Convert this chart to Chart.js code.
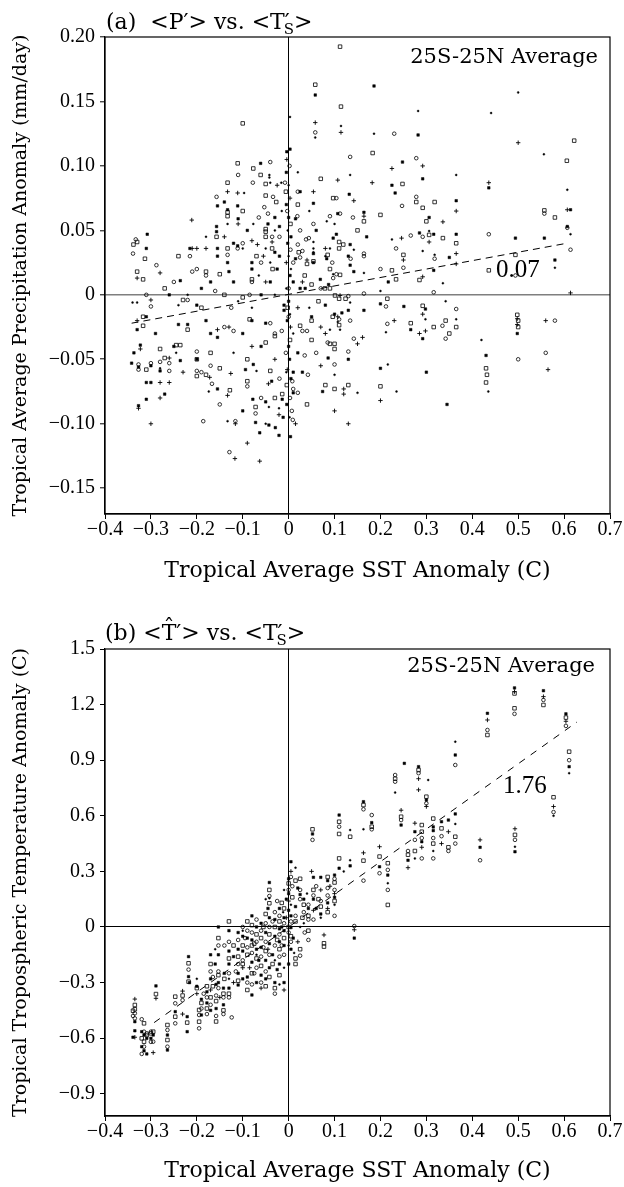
<!DOCTYPE html>
<html><head><meta charset="utf-8">
<script src="https://cdn.jsdelivr.net/npm/chart.js"></script>
<style>
html,body{margin:0;padding:0;background:#fff;width:624px;height:1187px;overflow:hidden}
canvas{position:absolute;left:0}
#ca{top:0}
#cb{top:600px}
</style></head><body>
<canvas id="ca" width="624" height="600"></canvas>
<canvas id="cb" width="624" height="587"></canvas>
<script>
// ---------- tick labels ----------
const xTicks = [-0.4,-0.3,-0.2,-0.1,0,0.1,0.2,0.3,0.4,0.5,0.6,0.7];
const yTicksA = [-0.15,-0.10,-0.05,0,0.05,0.10,0.15,0.20];
const yTicksB = [-0.9,-0.6,-0.3,0,0.3,0.6,0.9,1.2,1.5];

// ---------- panel (a): <P'> vs <Ts'> ----------
const aFill = [[-0.004,0.111],[-0.061,0.102],[-0.140,0.072],[-0.155,0.069],[-0.111,0.069],[-0.133,0.066],[0.015,0.059],[-0.020,0.053],[-0.110,0.059],[-0.157,0.053],[-0.157,0.049],[-0.308,0.047],[-0.310,0.036],[-0.215,0.036],[-0.155,0.036],[-0.155,0.030],[-0.133,0.025],[-0.111,0.038],[-0.030,0.033],[0.015,0.028],[0.054,0.025],[0.054,0.032],[0.130,0.030],[-0.080,0.025],[-0.080,0.020],[-0.130,0.018],[-0.236,0.011],[-0.310,-0.017],[-0.330,-0.027],[-0.240,-0.023],[-0.220,-0.023],[-0.200,-0.008],[-0.180,-0.020],[-0.155,-0.033],[-0.080,-0.020],[-0.050,-0.022],[-0.010,-0.008],[-0.010,-0.012],[0.000,-0.005],[0.050,-0.017],[0.080,-0.008],[0.100,-0.015],[0.130,-0.012],[0.248,0.103],[0.225,0.085],[0.292,0.090],[0.025,0.080],[0.054,0.071],[0.132,0.078],[0.232,0.079],[0.365,0.073],[0.436,0.083],[0.614,0.066],[0.607,0.053],[0.107,0.063],[0.164,0.064],[0.285,0.048],[0.306,0.060],[0.316,0.047],[0.365,0.047],[0.494,0.044],[0.557,0.044],[0.097,0.044],[0.104,0.047],[0.134,0.039],[0.083,0.028],[0.134,0.023],[0.350,0.029],[0.580,0.027],[0.316,0.019],[0.217,0.010],[0.142,0.018],[0.069,0.012],[0.087,0.008],[0.025,0.005],[0.036,0.005],[0.164,-0.012],[0.200,-0.007],[0.251,-0.009],[0.298,-0.011],[0.266,-0.027],[0.292,-0.034],[0.116,-0.014],[0.498,-0.030],[-0.342,-0.053],[-0.337,-0.045],[-0.327,-0.056],[-0.323,-0.039],[-0.300,-0.055],[-0.310,-0.068],[-0.300,-0.068],[-0.310,-0.081],[-0.327,-0.086],[-0.280,-0.059],[-0.270,-0.077],[-0.236,-0.051],[-0.155,-0.073],[-0.094,-0.058],[-0.078,-0.081],[-0.072,-0.099],[-0.063,-0.107],[-0.050,-0.083],[-0.043,-0.101],[-0.029,-0.103],[-0.021,-0.109],[-0.014,-0.081],[-0.012,-0.095],[-0.037,-0.067],[-0.077,-0.054],[0.010,-0.076],[0.010,-0.060],[0.074,-0.075],[0.086,-0.049],[0.130,-0.050],[0.200,-0.057],[0.430,-0.047],[0.300,-0.060],[0.345,-0.085],[0.058,0.155],[0.186,0.162],[0.282,0.124],[0.003,0.113],[-0.030,0.060],[-0.020,0.030],[0.005,0.045],[-0.060,-0.040],[-0.100,-0.030],[0.000,-0.040],[-0.040,0.010],[0.010,0.010],[-0.120,0.010],[-0.190,0.005],[-0.250,-0.040],[-0.200,-0.050],[-0.170,-0.030],[0.000,0.060],[0.005,-0.065],[0.020,-0.045],[-0.005,0.095],[-0.005,0.070],[-0.002,0.040],[0.003,0.015],[-0.003,-0.020],[0.002,-0.050],[-0.004,-0.085],[0.004,-0.110],[-0.045,0.055],[-0.025,0.020],[-0.060,0.000],[-0.090,0.050],[-0.120,0.040],[-0.170,0.010],[-0.260,0.000],[-0.290,-0.030],[0.030,-0.060],[0.060,0.050],[0.170,0.045],[-0.100,-0.090]];
const aOpen = [[-0.111,0.102],[-0.077,0.098],[-0.061,0.093],[-0.050,0.086],[-0.050,0.077],[-0.133,0.087],[-0.133,0.064],[-0.133,0.061],[-0.027,0.072],[-0.050,0.051],[-0.050,0.049],[-0.050,0.045],[-0.157,0.045],[-0.338,0.039],[-0.330,0.041],[-0.313,0.028],[-0.133,0.036],[-0.036,0.036],[0.022,0.033],[0.040,0.024],[0.085,0.031],[0.110,0.041],[0.110,0.036],[-0.080,0.012],[-0.150,0.016],[-0.180,0.018],[-0.317,0.012],[-0.330,0.018],[-0.317,-0.017],[-0.317,-0.024],[-0.220,-0.027],[-0.230,-0.004],[-0.100,-0.002],[-0.085,-0.019],[-0.050,-0.037],[-0.030,-0.032],[0.025,-0.024],[0.050,-0.020],[0.050,-0.035],[0.090,-0.038],[0.100,-0.038],[0.110,-0.003],[0.090,0.005],[0.065,-0.005],[0.183,0.110],[0.248,0.086],[0.097,0.075],[0.164,0.057],[0.200,0.062],[0.278,0.072],[0.318,0.072],[0.292,0.0675],[0.300,0.057],[0.306,0.0465],[0.336,0.044],[0.365,0.040],[0.606,0.104],[0.557,0.0655],[0.580,0.060],[0.119,0.039],[0.054,0.026],[0.090,0.020],[0.250,0.031],[0.494,0.031],[0.436,0.019],[0.225,0.019],[0.285,0.0115],[0.234,0.012],[0.112,0.0155],[0.079,0.005],[0.050,0.008],[0.101,-0.0005],[0.124,-0.003],[0.215,-0.003],[0.292,-0.0085],[0.342,-0.020],[0.365,-0.025],[0.316,-0.025],[0.350,-0.030],[0.266,-0.022],[0.096,-0.017],[0.110,-0.0235],[0.498,-0.0155],[-0.280,-0.042],[-0.270,-0.049],[-0.310,-0.058],[-0.245,-0.039],[-0.236,-0.039],[-0.200,-0.050],[-0.200,-0.063],[-0.180,-0.062],[-0.150,-0.057],[-0.128,-0.074],[-0.090,-0.067],[-0.072,-0.087],[-0.040,-0.059],[-0.014,-0.077],[0.080,-0.070],[0.100,-0.042],[0.100,-0.073],[0.130,-0.070],[0.200,-0.071],[0.430,-0.057],[0.432,-0.062],[0.430,-0.068],[0.500,-0.020],[0.500,-0.025],[0.112,0.1925],[0.058,0.163],[0.114,0.146],[-0.100,0.133],[0.622,0.1196],[-0.006,0.080],[0.004,0.055],[-0.002,-0.010],[0.003,-0.035],[-0.004,-0.070],[-0.035,0.020],[-0.070,0.030],[-0.100,0.065],[-0.140,0.000],[-0.190,-0.010],[-0.270,0.005],[-0.240,0.030],[0.020,0.070],[0.035,0.015],[0.150,0.050],[-0.030,-0.080],[-0.090,-0.050],[-0.170,-0.045],[0.040,-0.085],[0.070,0.090]];
const aCirc = [[-0.110,0.093],[-0.040,0.103],[-0.078,0.087],[-0.008,0.087],[-0.157,0.076],[-0.053,0.068],[-0.034,0.076],[0.019,0.061],[-0.045,0.063],[-0.333,0.043],[-0.339,0.032],[-0.288,0.023],[-0.215,0.030],[-0.133,0.031],[-0.111,0.036],[-0.100,0.040],[-0.036,0.045],[0.010,0.025],[0.025,0.029],[0.038,0.043],[0.095,0.025],[0.135,0.028],[-0.060,0.025],[-0.080,0.010],[-0.180,0.015],[-0.210,0.018],[-0.300,-0.009],[-0.220,-0.004],[-0.160,0.003],[-0.140,-0.025],[-0.120,-0.028],[-0.040,-0.022],[-0.030,-0.030],[-0.015,-0.028],[0.000,-0.017],[0.030,-0.028],[0.040,-0.028],[0.110,-0.019],[0.130,-0.001],[0.085,-0.037],[0.134,0.107],[0.278,0.106],[0.020,0.080],[0.104,0.075],[0.278,0.076],[0.247,0.069],[0.557,0.063],[0.607,0.052],[0.112,0.063],[0.090,0.061],[0.054,0.055],[0.292,0.045],[0.266,0.046],[0.436,0.047],[0.614,0.035],[0.044,0.044],[0.020,0.039],[0.030,0.034],[0.164,0.032],[0.164,0.030],[0.234,0.036],[0.318,0.028],[0.200,0.020],[0.250,0.021],[0.104,0.016],[0.097,0.013],[0.164,0.001],[0.316,0.002],[0.494,0.015],[0.212,-0.009],[0.365,-0.011],[0.335,-0.024],[0.342,-0.034],[0.215,-0.0225],[0.134,-0.020],[0.142,-0.034],[0.580,-0.020],[-0.327,-0.054],[-0.327,-0.058],[-0.300,-0.053],[-0.280,-0.052],[-0.260,-0.053],[-0.260,-0.059],[-0.200,-0.044],[-0.200,-0.059],[-0.190,-0.060],[-0.170,-0.055],[-0.167,-0.069],[-0.186,-0.098],[-0.090,-0.071],[-0.072,-0.092],[-0.129,-0.122],[-0.116,-0.098],[0.007,-0.090],[0.009,-0.097],[0.020,-0.076],[0.010,-0.073],[0.008,-0.067],[0.042,-0.062],[0.035,-0.047],[0.100,-0.054],[0.130,-0.044],[0.500,-0.050],[0.560,-0.045],[0.058,0.126],[0.230,0.125],[0.002,0.100],[-0.003,0.065],[0.004,0.035],[0.000,0.005],[-0.006,-0.045],[0.003,-0.080],[-0.020,0.045],[-0.065,0.060],[-0.085,0.000],[-0.125,-0.010],[-0.200,0.020],[-0.250,0.010],[-0.310,0.000],[0.025,0.050],[0.070,0.005],[0.060,-0.045],[-0.020,-0.065],[-0.060,-0.080],[-0.150,-0.085],[0.140,0.060]];
const aPlus = [[-0.133,0.080],[-0.111,0.079],[-0.211,0.058],[-0.110,0.055],[-0.210,0.036],[-0.200,0.036],[-0.180,0.036],[-0.080,0.042],[-0.068,0.039],[-0.036,0.041],[0.040,0.027],[0.080,0.036],[-0.330,0.013],[-0.280,0.017],[-0.300,-0.004],[-0.330,-0.020],[-0.155,-0.027],[-0.130,-0.025],[-0.050,0.010],[0.020,-0.010],[0.292,0.100],[0.225,0.098],[0.107,0.089],[0.182,0.087],[0.054,0.080],[0.142,0.073],[0.164,0.061],[0.336,0.0566],[0.246,0.044],[0.306,0.041],[0.365,0.065],[0.436,0.087],[0.607,0.066],[0.365,0.032],[0.250,0.027],[0.365,0.024],[0.292,0.014],[0.112,-0.0005],[0.292,-0.015],[0.285,-0.030],[0.298,-0.028],[0.230,-0.020],[0.107,-0.017],[0.070,-0.025],[0.161,-0.033],[0.498,-0.0185],[0.498,-0.023],[0.614,0.0015],[-0.323,-0.042],[-0.327,-0.088],[-0.300,-0.100],[-0.280,-0.068],[-0.260,-0.068],[-0.280,-0.080],[-0.260,-0.049],[-0.172,-0.064],[-0.133,-0.078],[-0.126,-0.061],[-0.116,-0.100],[-0.117,-0.127],[-0.090,-0.115],[-0.063,-0.129],[-0.044,-0.069],[-0.021,-0.093],[0.070,-0.055],[0.100,-0.090],[0.120,-0.073],[0.120,-0.077],[0.130,-0.100],[0.150,-0.038],[0.200,-0.082],[0.560,-0.020],[0.565,-0.058],[0.058,0.1336],[0.114,0.126],[0.500,0.118],[-0.004,0.105],[0.003,0.075],[-0.005,0.025],[0.004,-0.025],[-0.003,-0.058],[-0.025,0.085],[-0.055,0.030],[-0.080,-0.040],[-0.140,0.045],[-0.230,-0.060],[0.030,0.010],[0.080,-0.030],[-0.030,-0.050],[0.015,-0.100]];
const aDot = [[-0.042,0.093],[-0.042,0.091],[-0.040,0.087],[-0.016,0.087],[-0.097,0.079],[-0.030,0.050],[-0.077,0.055],[-0.133,0.055],[-0.100,0.036],[-0.050,0.036],[0.054,0.036],[0.090,0.036],[-0.040,0.025],[-0.330,-0.006],[-0.340,-0.006],[-0.240,-0.008],[-0.110,-0.005],[-0.080,-0.010],[0.000,0.030],[0.005,0.020],[-0.005,0.005],[0.010,-0.030],[0.134,0.093],[0.365,0.093],[0.556,0.109],[0.607,0.0815],[0.083,0.057],[0.306,0.0495],[0.225,0.043],[0.614,0.047],[0.142,0.035],[0.080,0.030],[0.054,0.041],[0.054,0.033],[0.292,0.034],[0.318,0.031],[0.580,0.021],[0.164,0.017],[0.097,0.016],[0.336,0.009],[0.200,0.003],[0.134,-0.006],[0.342,-0.005],[0.298,-0.019],[0.365,-0.019],[0.212,-0.029],[0.107,-0.021],[0.112,-0.027],[0.090,-0.027],[0.420,-0.035],[-0.280,-0.057],[-0.245,-0.045],[-0.174,-0.075],[-0.133,-0.098],[-0.070,-0.059],[-0.043,-0.087],[-0.021,-0.088],[0.150,-0.076],[0.216,-0.054],[0.235,-0.075],[0.100,-0.062],[0.435,-0.075],[0.282,0.1426],[0.441,0.141],[0.500,0.157],[0.003,0.138],[0.058,0.122],[0.114,0.131],[0.186,0.125],[0.000,0.085],[-0.002,0.050],[0.003,-0.015],[-0.005,-0.060],[0.002,-0.095],[-0.015,0.065],[-0.030,0.000],[-0.065,0.015],[-0.120,-0.045],[-0.180,0.045],[-0.220,0.000],[0.045,0.065],[0.045,-0.010],[0.100,0.055],[-0.050,-0.100],[0.020,0.095]];
const aFit = [[-0.342,-0.022],[0.606,0.040]];

// ---------- panel (b): <T^'> vs <Ts'> ----------
const bFill = [[0.492,1.29],[0.555,1.275],[0.604,1.15],[0.611,0.865],[0.433,1.153],[0.363,0.928],[0.363,0.61],[0.283,0.865],[0.300,0.685],[0.252,0.883],[0.245,0.55],[0.275,0.514],[0.290,0.46],[0.315,0.54],[0.315,0.52],[0.333,0.568],[0.348,0.577],[0.417,0.43],[0.493,0.406],[0.26,0.36],[0.198,0.325],[0.216,0.28],[0.163,0.676],[0.181,0.563],[0.110,0.604],[0.110,0.317],[0.134,0.33],[0.052,0.502],[0.143,-0.06],[0.10,0.28],[0.10,0.16],[0.085,0.25],[0.085,0.13],[0.07,0.268],[0.07,0.07],[0.054,0.268],[0.054,0.15],[0.043,0.10],[0.033,0.15],[0.025,0.175],[0.015,0.11],[0.005,0.352],[0.005,0.06],[0.005,-0.003],[0.005,-0.12],[0.0,0.26],[0.0,0.18],[0.0,0.09],[0.0,-0.2],[-0.01,0.05],[-0.01,-0.02],[-0.01,-0.1],[-0.01,-0.3],[-0.02,0.1],[-0.02,-0.01],[-0.02,-0.08],[-0.02,-0.2],[-0.03,0.04],[-0.03,-0.05],[-0.03,-0.3],[-0.042,0.24],[-0.042,0.05],[-0.042,-0.09],[-0.042,-0.22],[-0.05,-0.03],[-0.05,-0.18],[-0.05,-0.28],[-0.06,0.02],[-0.06,-0.11],[-0.06,-0.26],[-0.07,0.0],[-0.07,-0.12],[-0.07,-0.3],[-0.08,0.06],[-0.08,-0.07],[-0.08,-0.19],[-0.08,-0.367],[-0.09,-0.06],[-0.09,-0.27],[-0.10,-0.05],[-0.10,-0.13],[-0.11,-0.03],[-0.11,-0.12],[-0.11,-0.25],[-0.11,-0.313],[-0.13,-0.02],[-0.13,-0.13],[-0.13,-0.2],[-0.13,-0.33],[-0.142,-0.33],[-0.142,-0.42],[-0.153,0.0],[-0.153,-0.15],[-0.153,-0.3],[-0.158,-0.31],[-0.158,-0.44],[-0.17,-0.15],[-0.17,-0.28],[-0.17,-0.45],[-0.178,-0.35],[-0.178,-0.41],[-0.19,-0.39],[-0.19,-0.475],[-0.2,-0.32],[-0.218,-0.16],[-0.218,-0.268],[-0.216,-0.30],[-0.221,-0.484],[-0.221,-0.565],[-0.247,-0.457],[-0.264,-0.583],[-0.264,-0.664],[-0.289,-0.318],[-0.30,-0.601],[-0.295,-0.583],[-0.309,-0.601],[-0.309,-0.685],[-0.315,-0.583],[-0.315,-0.668],[-0.32,-0.565],[-0.32,-0.646],[-0.335,-0.511],[-0.335,-0.56],[-0.339,-0.595],[-0.015,0.0],[-0.005,0.15],[0.01,-0.06],[-0.035,-0.15],[-0.065,-0.18],[-0.1,-0.28],[-0.12,-0.16],[-0.045,0.1],[0.02,0.21],[0.06,0.1],[-0.025,-0.23],[-0.14,-0.25],[-0.16,-0.2]];
const bOpen = [[0.492,1.26],[0.492,1.18],[0.555,1.198],[0.604,1.13],[0.611,0.946],[0.577,0.70],[0.433,1.036],[0.363,0.487],[0.283,0.847],[0.300,0.703],[0.232,0.80],[0.245,0.595],[0.275,0.41],[0.290,0.55],[0.290,0.514],[0.315,0.585],[0.315,0.45],[0.333,0.532],[0.348,0.43],[0.493,0.497],[0.26,0.39],[0.198,0.38],[0.216,0.344],[0.216,0.119],[0.163,0.658],[0.163,0.358],[0.181,0.541],[0.110,0.568],[0.110,0.502],[0.110,0.37],[0.134,0.487],[0.052,0.527],[0.077,-0.088],[0.077,-0.106],[0.10,0.24],[0.10,0.14],[0.085,0.27],[0.085,0.08],[0.07,0.11],[0.054,0.2],[0.043,0.06],[0.043,-0.02],[0.033,0.12],[0.025,0.26],[0.025,-0.12],[0.015,0.25],[0.015,0.03],[0.015,-0.17],[0.015,-0.2],[0.005,-0.05],[0.0,0.235],[0.0,0.0],[-0.01,0.1],[-0.01,-0.06],[-0.02,0.03],[-0.02,-0.12],[-0.02,-0.26],[-0.03,0.0],[-0.03,-0.33],[-0.042,0.2],[-0.042,0.128],[-0.042,-0.04],[-0.042,-0.27],[-0.05,0.07],[-0.05,-0.13],[-0.05,-0.32],[-0.06,-0.06],[-0.06,-0.21],[-0.07,-0.04],[-0.07,-0.17],[-0.08,0.01],[-0.08,-0.1],[-0.08,-0.25],[-0.09,0.03],[-0.09,-0.15],[-0.09,-0.34],[-0.10,-0.1],[-0.11,-0.16],[-0.11,-0.29],[-0.13,0.03],[-0.13,-0.17],[-0.13,-0.36],[-0.142,-0.36],[-0.142,-0.45],[-0.153,-0.06],[-0.153,-0.26],[-0.158,-0.4],[-0.158,-0.51],[-0.17,-0.2],[-0.17,-0.38],[-0.178,-0.32],[-0.178,-0.44],[-0.19,-0.41],[-0.195,-0.448],[-0.195,-0.511],[-0.2,-0.33],[-0.218,-0.196],[-0.218,-0.295],[-0.221,-0.516],[-0.231,-0.37],[-0.247,-0.376],[-0.247,-0.484],[-0.264,-0.529],[-0.264,-0.61],[-0.289,-0.362],[-0.30,-0.574],[-0.295,-0.565],[-0.309,-0.583],[-0.315,-0.52],[-0.315,-0.619],[-0.32,-0.601],[-0.335,-0.421],[-0.335,-0.444],[-0.339,-0.452],[-0.015,0.13],[0.008,0.16],[-0.035,-0.2],[-0.055,0.0],[-0.075,-0.09],[-0.1,-0.2],[-0.12,-0.1],[-0.025,-0.07],[0.03,0.05],[0.065,0.15],[-0.14,-0.28],[-0.165,-0.32]];
const bCirc = [[0.492,1.15],[0.555,1.225],[0.604,1.085],[0.611,0.90],[0.577,0.62],[0.433,1.063],[0.363,0.874],[0.363,0.45],[0.283,0.83],[0.300,0.667],[0.232,0.82],[0.232,0.784],[0.245,0.577],[0.275,0.47],[0.290,0.48],[0.290,0.37],[0.315,0.48],[0.315,0.37],[0.333,0.49],[0.348,0.41],[0.417,0.36],[0.493,0.47],[0.26,0.41],[0.198,0.29],[0.216,0.308],[0.216,0.20],[0.163,0.635],[0.163,0.25],[0.181,0.604],[0.181,0.527],[0.110,0.541],[0.052,0.47],[0.143,0.005],[0.10,0.26],[0.10,0.20],[0.10,0.06],[0.085,0.21],[0.085,0.17],[0.07,0.14],[0.054,0.17],[0.054,0.04],[0.043,0.12],[0.043,0.04],[0.043,-0.07],[0.033,0.08],[0.025,0.2],[0.025,0.15],[0.025,-0.155],[0.015,0.06],[0.005,0.27],[0.005,0.03],[0.005,-0.08],[0.0,0.2],[0.0,-0.03],[-0.01,0.02],[-0.01,-0.15],[-0.02,0.06],[-0.02,-0.04],[-0.02,-0.16],[-0.03,0.08],[-0.03,-0.1],[-0.03,-0.36],[-0.042,0.167],[-0.042,0.0],[-0.042,-0.15],[-0.05,0.02],[-0.05,-0.08],[-0.05,-0.24],[-0.06,-0.02],[-0.06,-0.16],[-0.06,-0.3],[-0.07,0.04],[-0.07,-0.08],[-0.07,-0.22],[-0.08,-0.03],[-0.08,-0.14],[-0.08,-0.31],[-0.09,-0.02],[-0.09,-0.11],[-0.09,-0.3],[-0.10,0.0],[-0.10,-0.18],[-0.11,-0.07],[-0.11,-0.2],[-0.124,-0.488],[-0.13,-0.08],[-0.13,-0.25],[-0.13,-0.38],[-0.142,-0.38],[-0.142,-0.47],[-0.153,-0.1],[-0.153,-0.24],[-0.153,-0.33],[-0.158,-0.37],[-0.158,-0.48],[-0.17,-0.24],[-0.17,-0.42],[-0.178,-0.38],[-0.178,-0.47],[-0.19,-0.44],[-0.195,-0.475],[-0.195,-0.547],[-0.218,-0.23],[-0.231,-0.395],[-0.247,-0.412],[-0.247,-0.52],[-0.264,-0.556],[-0.264,-0.646],[-0.30,-0.565],[-0.30,-0.62],[-0.295,-0.619],[-0.309,-0.574],[-0.315,-0.565],[-0.315,-0.646],[-0.32,-0.498],[-0.32,-0.685],[-0.335,-0.466],[-0.335,-0.493],[-0.339,-0.48],[-0.015,-0.1],[0.008,0.22],[-0.035,0.03],[-0.055,-0.11],[-0.075,-0.25],[-0.095,-0.06],[-0.115,-0.24],[-0.025,0.14],[0.035,-0.03],[0.06,0.22],[-0.14,-0.1],[-0.165,-0.27],[-0.185,-0.36]];
const bPlus = [[0.492,1.27],[0.555,1.243],[0.604,1.11],[0.577,0.65],[0.433,1.117],[0.283,0.80],[0.283,0.74],[0.300,0.65],[0.245,0.63],[0.275,0.56],[0.290,0.43],[0.333,0.45],[0.348,0.514],[0.417,0.47],[0.493,0.53],[0.26,0.32],[0.198,0.433],[0.163,0.40],[0.143,-0.015],[0.077,-0.043],[0.10,0.18],[0.085,0.10],[0.07,0.20],[0.054,0.09],[0.005,0.30],[0.0,0.14],[-0.01,-0.34],[-0.10,-0.22],[-0.17,-0.34],[-0.2,-0.36],[-0.231,-0.346],[-0.231,-0.47],[-0.289,-0.385],[-0.295,-0.678],[-0.335,-0.389],[-0.335,-0.595],[-0.005,0.05],[-0.045,-0.12],[-0.085,-0.22],[-0.12,-0.3],[0.02,-0.08],[0.05,0.3],[-0.15,-0.38],[0.09,0.22],[-0.06,-0.33]];
const bDot = [[0.611,0.83],[0.577,0.60],[0.363,1.0],[0.363,0.556],[0.304,0.793],[0.232,0.725],[0.275,0.37],[0.315,0.41],[0.493,0.433],[0.216,0.236],[0.163,0.527],[0.134,0.523],[0.134,0.36],[0.10,0.12],[0.07,0.05],[0.033,0.02],[0.015,0.32],[0.005,0.12],[0.0,-0.1],[-0.01,0.2],[-0.01,-0.22],[-0.02,-0.31],[-0.042,0.155],[-0.012,0.08],[-0.03,-0.18],[-0.05,0.15],[-0.07,-0.15],[-0.1,-0.02],[-0.13,-0.28],[0.012,-0.14],[0.04,0.18],[0.025,0.0],[-0.16,-0.12],[-0.2,-0.28],[0.12,0.3]];
const bFit = [[-0.293,-0.516],[0.628,1.106]];

// ---------- helpers ----------
const NUMF = '"Liberation Serif","Times New Roman",serif';
const TXTF = '"DejaVu Serif",serif';

function fmt(v, d) { if (Math.abs(v) < 1e-9) return '0'; return (v < 0 ? '\u2212' : '') + Math.abs(v).toFixed(d); }
function pts(a) { return a.map(p => ({x: p[0], y: p[1]})); }

function markerSets(fill, open, circ, plus, dot, fit, dash) {
  return [
    {data: pts(open), pointStyle: 'rect', pointRadius: 2.5, pointBackgroundColor: 'rgba(0,0,0,0)', pointBorderColor: '#000', pointBorderWidth: 0.8},
    {data: pts(circ), pointStyle: 'circle', pointRadius: 1.8, pointBackgroundColor: 'rgba(0,0,0,0)', pointBorderColor: '#000', pointBorderWidth: 0.8},
    {data: pts(plus), pointStyle: 'cross', pointRadius: 2.2, pointBorderColor: '#000', pointBorderWidth: 0.9},
    {data: pts(dot), pointStyle: 'circle', pointRadius: 1.0, pointBackgroundColor: '#000', pointBorderColor: '#000', pointBorderWidth: 0.4},
    {data: pts(fill), pointStyle: 'rect', pointRadius: 1.8, pointBackgroundColor: '#000', pointBorderColor: '#000', pointBorderWidth: 0.5},
    {data: pts(fit), showLine: true, borderColor: '#000', borderWidth: 1, borderDash: dash, pointRadius: 0, fill: false}
  ];
}

function makeScales(o) {
  return {
    x: {
      type: 'linear', min: -0.4, max: 0.7,
      afterBuildTicks: s => { s.ticks = xTicks.map(v => ({value: v})); },
      ticks: {callback: v => fmt(v, 1), font: {family: NUMF, size: 20}, color: '#000', padding: -1, maxRotation: 0, autoSkip: false},
      grid: {color: c => (c.tick && Math.abs(c.tick.value) < 1e-9) ? '#000' : 'rgba(0,0,0,0)', lineWidth: 1, tickLength: 5, tickColor: '#000', tickWidth: 1},
      border: {display: true, color: '#000', width: 1.2},
      title: {display: true, text: 'Tropical Average SST Anomaly (C)', font: {family: TXTF, size: 22}, color: '#000', padding: {top: 0, bottom: o.xTitlePad}},
      afterFit: s => { s.height = o.xAxisH; }
    },
    y: {
      type: 'linear', min: o.yMin, max: o.yMax,
      afterBuildTicks: s => { s.ticks = o.yTicks.map(v => ({value: v})); },
      ticks: {callback: v => fmt(v, o.yDec), font: {family: NUMF, size: 20}, color: '#000', padding: 5, autoSkip: false},
      grid: {color: c => (c.tick && Math.abs(c.tick.value) < 1e-9) ? o.zeroColor : 'rgba(0,0,0,0)', lineWidth: o.zeroWidth, tickLength: 5, tickColor: '#000', tickWidth: 1},
      border: {display: true, color: '#000', width: 1.2},
      title: {display: true, text: o.yTitle, font: {family: TXTF, size: 19}, color: '#000', padding: {top: 10, bottom: 0}},
      afterFit: s => { s.width = 105; }
    }
  };
}

function frame(chart) {
  const c = chart.ctx, a = chart.chartArea;
  c.save(); c.strokeStyle = '#000'; c.lineWidth = 1.2;
  c.strokeRect(a.left, a.top, a.right - a.left, a.bottom - a.top);
  c.restore();
}

function drawPrimeSub(c, x, y) {
  const pw = c.measureText('\u2032').width;
  c.fillText('\u2032', x, y);
  const keep = c.font;
  c.font = '15px ' + TXTF;
  const sw = c.measureText('S').width;
  c.fillText('S', x - 1, y + 5);
  c.font = keep;
  return Math.max(pw, sw) - 1;
}

const plugA = {
  id: 'txtA',
  afterDraw(chart) {
    frame(chart);
    const c = chart.ctx;
    c.save(); c.fillStyle = '#000'; c.textBaseline = 'alphabetic';
    c.font = '21px ' + TXTF; c.textAlign = 'right';
    c.fillText('25S-25N Average', 598, 63);
    c.font = '25px ' + NUMF; c.textAlign = 'left';
    c.fillText('0.07', 496, 277);
    c.font = '22px ' + TXTF; c.textAlign = 'left';
    let x = 106, y = 29, s;
    s = '(a)  <P'; c.fillText(s, x, y); x += c.measureText(s).width;
    s = '\u2032'; c.fillText(s, x, y); x += c.measureText(s).width;
    s = '> vs. <T'; c.fillText(s, x, y); x += c.measureText(s).width;
    x += drawPrimeSub(c, x, y);
    c.fillText('>', x, y);
    c.restore();
  }
};

const plugB = {
  id: 'txtB',
  afterDraw(chart) {
    frame(chart);
    const c = chart.ctx;
    c.save(); c.fillStyle = '#000'; c.textBaseline = 'alphabetic';
    c.font = '21px ' + TXTF; c.textAlign = 'right';
    c.fillText('25S-25N Average', 595, 72);
    c.font = '25px ' + NUMF; c.textAlign = 'left';
    c.fillText('1.76', 503, 193);
    c.font = '22px ' + TXTF; c.textAlign = 'left';
    let x = 105, y = 40, s;
    s = '(b) <'; c.fillText(s, x, y); x += c.measureText(s).width;
    const tw = c.measureText('T').width;
    c.fillText('T', x, y);
    c.textAlign = 'center'; c.fillText('\u02C6', x + tw / 2, y - 5); c.textAlign = 'left';
    x += tw;
    s = '\u2032'; c.fillText(s, x, y); x += c.measureText(s).width;
    s = '> vs. <T'; c.fillText(s, x, y); x += c.measureText(s).width;
    x += drawPrimeSub(c, x, y);
    c.fillText('>', x, y);
    c.restore();
  }
};

function makeChart(id, sets, scales, pad, plug) {
  return new Chart(document.getElementById(id), {
    type: 'scatter',
    data: {datasets: sets},
    options: {
      responsive: false, animation: false, devicePixelRatio: 1, events: [],
      layout: {padding: pad},
      plugins: {legend: {display: false}, tooltip: {enabled: false}, title: {display: false}},
      scales: scales
    },
    plugins: [plug]
  });
}

makeChart('ca', markerSets(aFill, aOpen, aCirc, aPlus, aDot, aFit, [7, 5]),
  makeScales({yMin: -0.17, yMax: 0.20, yTicks: yTicksA, yDec: 2, yTitle: 'Tropical Average Precipitation Anomaly (mm/day)', zeroColor: '#7f7f7f', zeroWidth: 1.6, xTitlePad: 16, xAxisH: 86}),
  {top: 37, right: 14, left: 0, bottom: 0}, plugA);

makeChart('cb', markerSets(bFill, bOpen, bCirc, bPlus, bDot, bFit, [7, 7]),
  makeScales({yMin: -1.02, yMax: 1.5, yTicks: yTicksB, yDec: 1, yTitle: 'Tropical Tropospheric Temperature Anomaly (C)', zeroColor: '#000', zeroWidth: 1, xTitlePad: 3, xAxisH: 71}),
  {top: 49, right: 14, left: 0, bottom: 0}, plugB);
</script>
</body></html>
